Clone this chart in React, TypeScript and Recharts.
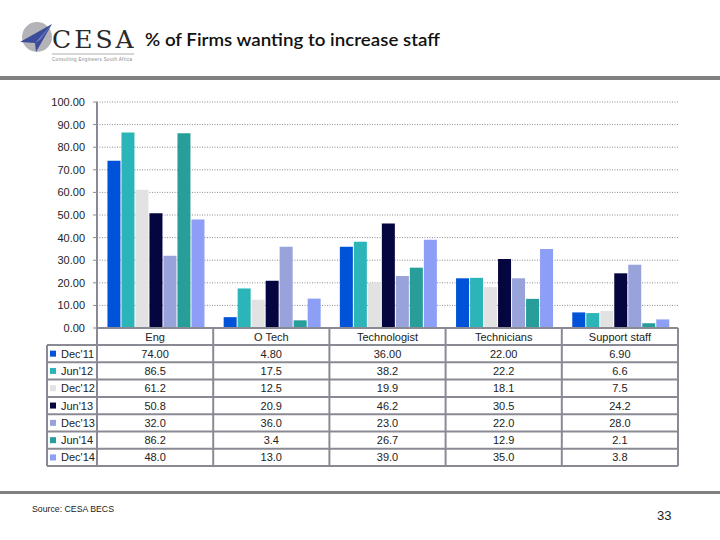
import React from "react";
import { BarChart, Bar, XAxis, YAxis, CartesianGrid } from "recharts";

const categories = ["Eng", "O Tech", "Technologist", "Technicians", "Support staff"];
const seriesNames = ["Dec'11", "Jun'12", "Dec'12", "Jun'13", "Dec'13", "Jun'14", "Dec'14"];
const dec11 = [74.0, 4.8, 36.0, 22.0, 6.9];
const jun12 = [86.5, 17.5, 38.2, 22.2, 6.6];
const dec12 = [61.2, 12.5, 19.9, 18.1, 7.5];
const jun13 = [50.8, 20.9, 46.2, 30.5, 24.2];
const dec13 = [32.0, 36.0, 23.0, 22.0, 28.0];
const jun14 = [86.2, 3.4, 26.7, 12.9, 2.1];
const dec14 = [48.0, 13.0, 39.0, 35.0, 3.8];
const seriesValues = [dec11, jun12, dec12, jun13, dec13, jun14, dec14];
const seriesDecimals = [2, 1, 1, 1, 1, 1, 1];
const yTicks = [0, 10, 20, 30, 40, 50, 60, 70, 80, 90, 100];
const colors = ["#0052D9", "#2CB5B8", "#E2E2E2", "#05053F", "#97A3DA", "#279E9A", "#8C9EF5"];

const data = categories.map((c, i) => {
  const row: Record<string, any> = { name: c };
  seriesNames.forEach((s, j) => {
    row[s] = seriesValues[j][i];
  });
  return row;
});

const W = 720;
const H = 540;
const PLOT_L = 97;
const PLOT_R = 678;
const PLOT_T = 102;
const PLOT_B = 328;
const TABLE_L = 47;
const HEADER_B = 345;
const ROW_H = 17.3;
const colW = (PLOT_R - PLOT_L) / categories.length;
const font = "'Liberation Sans', Arial, sans-serif";
const lineColor = "#8A8A94";

function Header() {
  return (
    <svg width={W} height={H} style={{ position: "absolute", left: 0, top: 0, pointerEvents: "none" }}>
      {/* logo */}
      <circle cx={37} cy={37} r={15} fill="#B4B4B8" />
      <polygon points="20,42 52,24 36,52 35,43" fill="#3A4C9A" />
      <polygon points="35,43 52,24 40,40" fill="#6E80C4" />
      <text x={52} y={48} fontFamily="'DejaVu Serif', serif" fontSize={25} fill="#2A2A2A" letterSpacing={3}>
        CESA
      </text>
      <line x1={52} y1={54} x2={134} y2={54} stroke="#999" strokeWidth={0.8} />
      <text x={52} y={61} fontFamily={font} fontSize={4.5} fill="#888" textLength={80}>
        Consulting Engineers South Africa
      </text>
      <text
        x={145}
        y={46}
        fontFamily="Lato, 'Open Sans', sans-serif"
        fontSize={18}
        fontWeight={600}
        fill="#111"
        textLength={295}
        lengthAdjust="spacingAndGlyphs"
      >
        % of Firms wanting to increase staff
      </text>
      <rect x={0} y={76} width={W} height={4} fill="#808080" />
      <rect x={0} y={491} width={W} height={3} fill="#808080" />
      <text x={32} y={512} fontFamily={font} fontSize={9.5} fill="#222" textLength={82} lengthAdjust="spacingAndGlyphs">
        Source: CESA BECS
      </text>
      <text x={657} y={520} fontFamily={font} fontSize={13} fill="#222">
        33
      </text>
    </svg>
  );
}

function Table() {
  const rows = seriesNames.length;
  const bottom = HEADER_B + rows * ROW_H;
  const hLines = [];
  hLines.push(<line key="top" x1={PLOT_L} y1={PLOT_B} x2={PLOT_R} y2={PLOT_B} stroke={lineColor} strokeWidth={2} />);
  for (let r = 0; r <= rows; r++) {
    const y = HEADER_B + r * ROW_H;
    hLines.push(<line key={"h" + r} x1={TABLE_L} y1={y} x2={PLOT_R} y2={y} stroke={lineColor} strokeWidth={2} />);
  }
  const vLines = [];
  vLines.push(<line key="vl" x1={TABLE_L} y1={HEADER_B} x2={TABLE_L} y2={bottom} stroke={lineColor} strokeWidth={2} />);
  for (let c = 0; c <= categories.length; c++) {
    const x = PLOT_L + c * colW;
    vLines.push(<line key={"v" + c} x1={x} y1={PLOT_B} x2={x} y2={bottom} stroke={lineColor} strokeWidth={2} />);
  }
  return (
    <svg width={W} height={H} style={{ position: "absolute", left: 0, top: 0, pointerEvents: "none" }}>
      {hLines}
      {vLines}
      {categories.map((c, i) => (
        <text key={c} x={PLOT_L + (i + 0.5) * colW} y={(PLOT_B + HEADER_B) / 2 + 4} textAnchor="middle" fontFamily={font} fontSize={11} fill="#222">
          {c}
        </text>
      ))}
      {seriesNames.map((s, j) => {
        const yc = HEADER_B + (j + 0.5) * ROW_H;
        return (
          <g key={s}>
            <rect x={50} y={yc - 3} width={6} height={6} fill={colors[j]} />
            <text x={61} y={yc + 4} fontFamily={font} fontSize={11} fill="#222">
              {s}
            </text>
            {seriesValues[j].map((v, i) => (
              <text key={i} x={PLOT_L + (i + 0.5) * colW} y={yc + 4} textAnchor="middle" fontFamily={font} fontSize={11} fill="#222">
                {v.toFixed(seriesDecimals[j])}
              </text>
            ))}
          </g>
        );
      })}
    </svg>
  );
}

export default function App() {
  return (
    <div style={{ position: "absolute", left: 0, top: 0, width: W, height: H, background: "#fff", overflow: "hidden" }}>
      <BarChart
        width={W}
        height={H}
        data={data}
        margin={{ top: PLOT_T, right: W - PLOT_R, bottom: H - PLOT_B, left: 0 }}
        barCategoryGap="9%"
        barGap={1}
      >
        <CartesianGrid vertical={false} stroke="#8C8C8C" strokeDasharray="1 1.5" />
        <XAxis dataKey="name" hide />
        <YAxis
          width={PLOT_L}
          domain={[0, 100]}
          ticks={yTicks}
          interval={0}
          tickFormatter={(v: number) => v.toFixed(2)}
          tick={{ fontFamily: font, fontSize: 11, fill: "#222" }}
          axisLine={{ stroke: lineColor, strokeWidth: 2 }}
          tickLine={{ stroke: lineColor }}
          tickSize={4}
          tickMargin={8}
        />
        {seriesNames.map((s, j) => (
          <Bar key={s} dataKey={s} fill={colors[j]} isAnimationActive={false} />
        ))}
      </BarChart>
      <Table />
      <Header />
    </div>
  );
}
